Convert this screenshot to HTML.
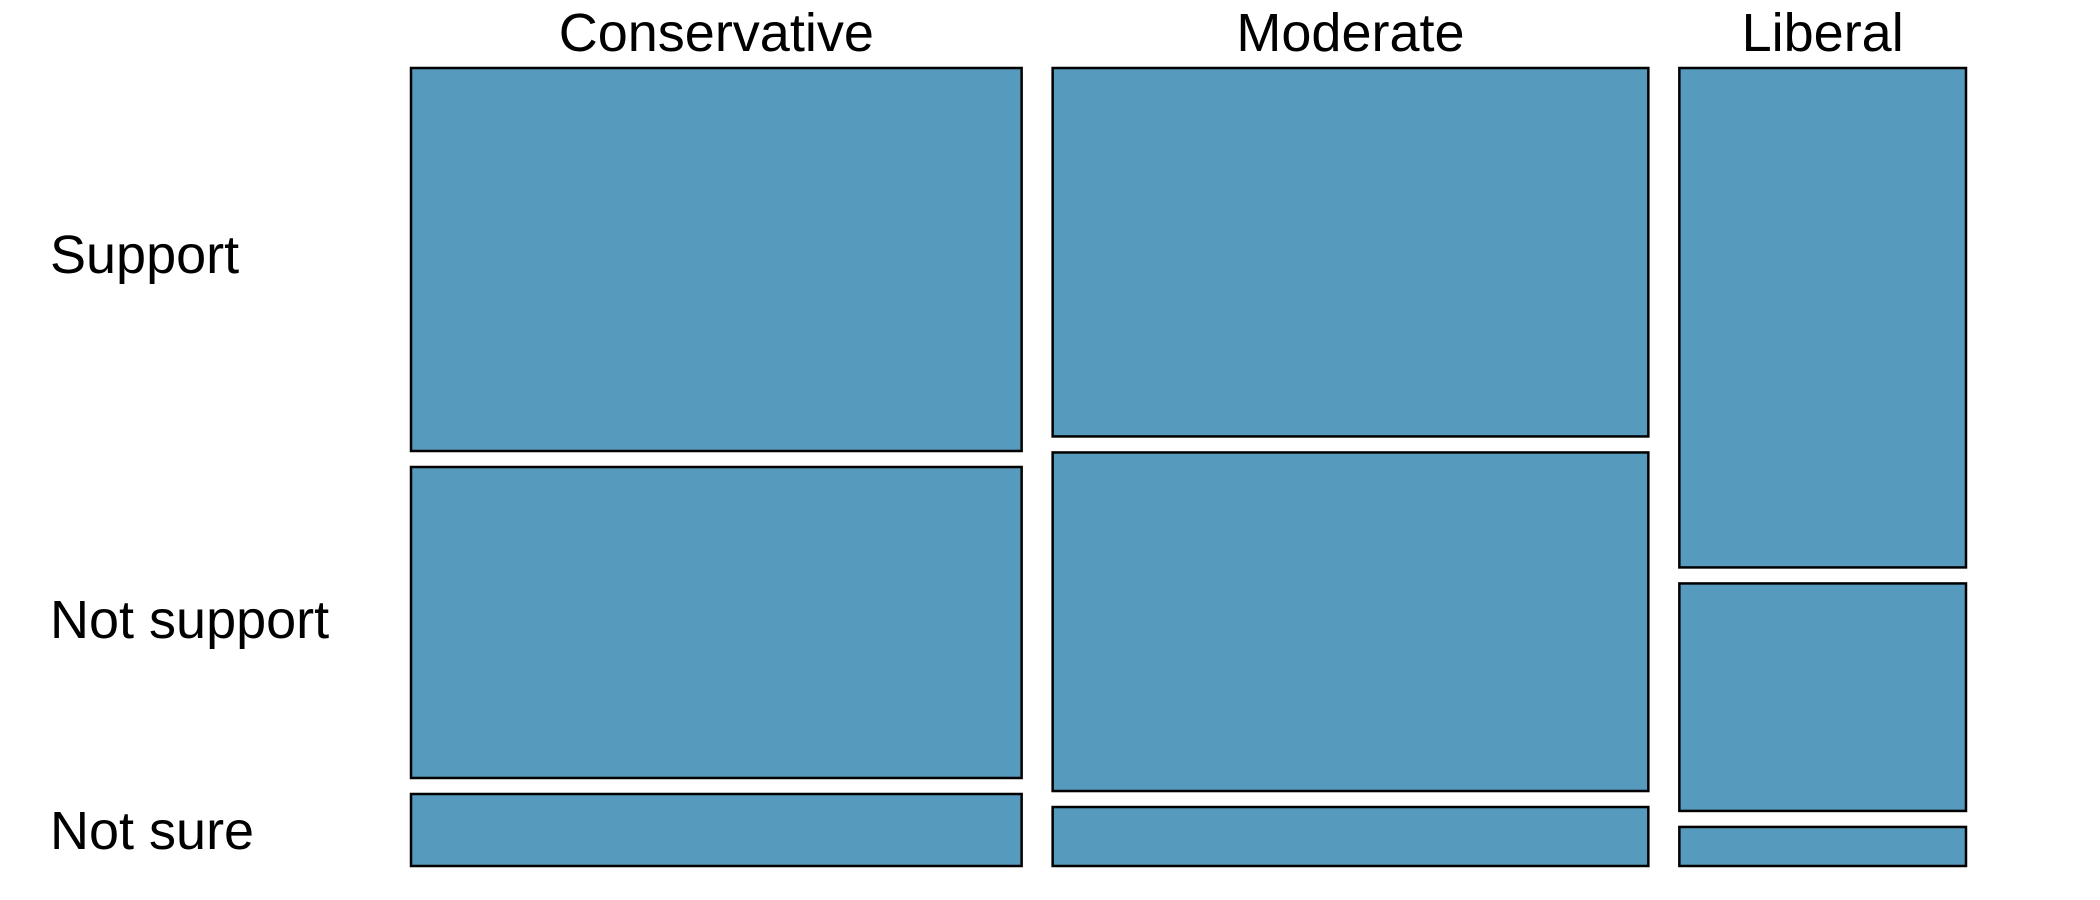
<!DOCTYPE html>
<html><head><meta charset="utf-8"><style>
html,body{margin:0;padding:0;background:#fff;}
svg{display:block;font-family:"Liberation Sans",Arial,sans-serif;}
</style></head><body>
<svg id="chart" width="2100" height="900" viewBox="0 0 2100 900"></svg>
<script>
const columns = ["Conservative", "Moderate", "Liberal"];
const rows = ["Support", "Not support", "Not sure"];
const colShares = [0.409, 0.399, 0.192];
const conservativeShares = [0.500, 0.406, 0.094];
const moderateShares = [0.481, 0.442, 0.077];
const liberalShares = [0.652, 0.297, 0.051];
const rowShares = [conservativeShares, moderateShares, liberalShares];

const NS = "http://www.w3.org/2000/svg";
const svg = document.getElementById("chart");
const L = 411, R = 1966, T = 68, B = 866, GX = 31, GY = 16;
const availW = (R - L) - GX * (columns.length - 1);
const availH = (B - T) - GY * (rows.length - 1);
const rowLabelY = [254, 619, 830];

function mk(tag, attrs) { const e = document.createElementNS(NS, tag); for (const k in attrs) e.setAttribute(k, attrs[k]); svg.appendChild(e); return e; }

let x = L;
columns.forEach((c, i) => {
  const w = colShares[i] * availW;
  const t = mk("text", {x: x + w / 2, y: 51, "text-anchor": "middle", "font-size": 54, fill: "#000"});
  t.textContent = c;
  
  
  let y = T;
  rows.forEach((r, j) => {
    const h = rowShares[i][j] * availH;
    const rect = mk("rect", {x: x, y: y, width: w, height: h, fill: "#569bbd", stroke: "#000", "stroke-width": 2.5});
    
    
    y += h + GY;
  });
  x += w + GX;
});
rows.forEach((r, j) => {
  const t = mk("text", {x: 50, y: rowLabelY[j] + 19, "font-size": 54, fill: "#000"});
  t.textContent = r;
  
  
});
</script>
</body></html>
